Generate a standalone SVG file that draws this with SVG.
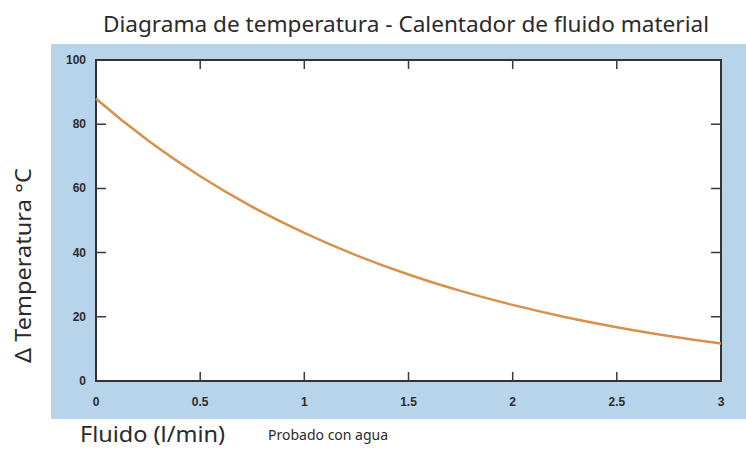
<svg xmlns="http://www.w3.org/2000/svg" width="746" height="455" viewBox="0 0 746 455">
<style>
.title{font-family:"Noto Sans","DejaVu Sans",sans-serif;fill:#2a2a2a}
.tick{font-family:"Liberation Sans",Arial,sans-serif;font-size:12px;font-weight:bold;fill:#2b2b2b}
.tk{stroke:#3a3a3a;stroke-width:1.5;fill:none}
</style>
<rect x="0" y="0" width="746" height="455" fill="#ffffff"/>
<g id="title"><text class="title" x="103" y="31.5" font-size="22" textLength="606" lengthAdjust="spacingAndGlyphs">Diagrama de temperatura - Calentador de fluido material</text></g>
<g id="panel">
<rect x="51" y="44" width="695" height="375" fill="#b8d4eb"/>
<rect x="96" y="60" width="625" height="321" fill="#ffffff" stroke="#333333" stroke-width="2"/>
</g>
<g id="ticks">
<path class="tk" d="M200.2,60v9M304.3,60v9M408.5,60v9M512.7,60v9M616.8,60v9M200.2,381v-9M304.3,381v-9M408.5,381v-9M512.7,381v-9M616.8,381v-9M96,316.8h10M96,252.6h10M96,188.4h10M96,124.2h10M721,316.8h-10M721,252.6h-10M721,188.4h-10M721,124.2h-10"/>
</g>
<g id="ylabels" class="tick" text-anchor="end">
<text x="86" y="385">0</text>
<text x="86" y="320.8">20</text>
<text x="86" y="256.6">40</text>
<text x="86" y="192.4">60</text>
<text x="86" y="128.2">80</text>
<text x="86" y="64">100</text>
</g>
<g id="xlabels" class="tick" text-anchor="middle">
<text x="96" y="406">0</text>
<text x="200.2" y="406">0.5</text>
<text x="304.3" y="406">1</text>
<text x="408.5" y="406">1.5</text>
<text x="512.7" y="406">2</text>
<text x="616.8" y="406">2.5</text>
<text x="721" y="406">3</text>
</g>
<g id="connectors">
<path fill="none" stroke="#d8904a" stroke-width="2.5" stroke-linecap="butt" d="M96,98.8 C113.36,113.77 130.74,127.7 148.1,140.6 C165.46,153.5 182.84,165.17 200.2,176.2 C217.56,187.23 234.94,197.35 252.3,206.8 C269.66,216.25 286.94,224.82 304.3,232.9 C321.66,240.98 339.04,248.37 356.4,255.3 C373.76,262.23 391.14,268.57 408.5,274.5 C425.86,280.43 443.24,285.83 460.6,290.9 C477.96,295.97 495.34,300.55 512.7,304.9 C530.06,309.25 547.34,313.28 564.7,317 C582.06,320.72 599.44,324.03 616.8,327.2 C634.16,330.37 651.54,333.27 668.9,336 C686.26,338.73 703.64,341.27 721,343.6"/>
</g>
<g id="ytitle"><text class="title" font-size="22" text-anchor="middle" transform="translate(31,265.5) rotate(-90)" textLength="195" lengthAdjust="spacingAndGlyphs">Δ Temperatura °C</text></g>
<g id="xtitle"><text class="title" x="80" y="441.5" font-size="21" textLength="145" lengthAdjust="spacingAndGlyphs">Fluido (l/min)</text></g>
<g id="note"><text class="title" x="268" y="440" font-size="14">Probado con agua</text></g>
</svg>
